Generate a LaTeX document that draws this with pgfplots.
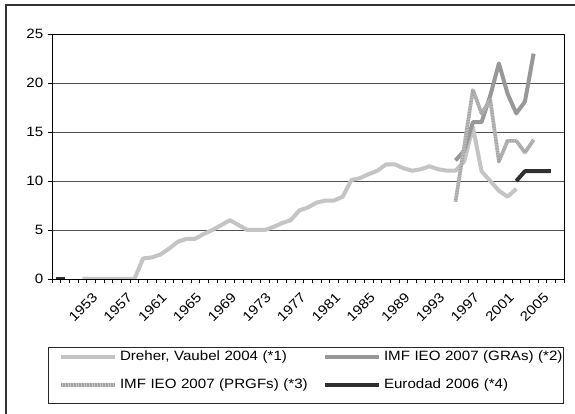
\documentclass[border=0pt]{standalone}
\usepackage{fontspec}
\setmainfont{Liberation Sans}[FakeStretch=1.12]
\usepackage{pgfplots}
\pgfplotsset{compat=1.18}
\definecolor{cDreher}{HTML}{C4C4C4}
\definecolor{cGRA}{HTML}{989898}
\definecolor{cPRGFa}{HTML}{C6C6C6}
\definecolor{cPRGFb}{HTML}{A2A2A2}
\definecolor{cEuro}{HTML}{303030}
\definecolor{cGrid}{HTML}{505050}
\begin{document}
\fontsize{13.5pt}{16pt}\selectfont
\begin{tikzpicture}[x=1pt,y=1pt]
\useasboundingbox (0,0) rectangle (575,414);
\draw[line width=1.3pt, color=black!80] (6,0) -- (6,409) -- (575,409);
\begin{axis}[
  at={(52pt,135pt)}, anchor=south west,
  width=512pt, height=245pt, scale only axis,
  xmin=1949.5, xmax=2008.5, ymin=0, ymax=25,
  ytick={0,5,...,25},
  ymajorgrids, grid style={color=cGrid, line width=0.7pt},
  xtick={1949.5,1950.5,...,2008.5}, xticklabels={},
  extra x ticks={1953,1957,1961,1965,1969,1973,1977,1981,1985,1989,1993,1997,2001,2005},
  extra x tick labels={1953,1957,1961,1965,1969,1973,1977,1981,1985,1989,1993,1997,2001,2005},
  extra x tick style={major tick length=0pt, grid=none,
     xticklabel style={rotate=45, anchor=east, inner sep=1pt, yshift=-20.5pt, xshift=-1.5pt}},
  tick align=outside, tick pos=left, major tick length=4.5pt,
  axis line style={black, line width=0.8pt},
  tick style={black, line width=0.6pt},
  /pgf/number format/assume math mode=true,
  yticklabel style={inner sep=4pt},
  line join=round,
  legend columns=2,
  legend cell align=left,
  legend image code/.code={\draw[#1] (0pt,0pt) -- (54pt,0pt);},
  legend style={draw=none, fill=none,
     at={(axis description cs:0.01367,-0.2837)}, anchor=north west,
     inner sep=0pt, outer sep=0pt, row sep=11pt,
     nodes={inner xsep=3pt, inner ysep=2pt, text height=10pt, text depth=3pt, text width=188pt, align=left},
     /tikz/every even column/.append style={column sep=12pt}},
]
\addplot[color=cDreher, line width=4pt] coordinates {
(1953,0)(1954,0)(1955,0)(1956,0)(1957,0)(1958,0)(1959,0)(1960,2.1)(1961,2.2)(1962,2.5)
(1963,3.1)(1964,3.8)(1965,4.1)(1966,4.1)(1967,4.6)(1968,5.0)(1969,5.5)(1970,6.0)(1971,5.5)(1972,5.0)
(1973,5.0)(1974,5.0)(1975,5.3)(1976,5.7)(1977,6.0)(1978,7.0)(1979,7.3)(1980,7.8)(1981,8.0)(1982,8.0)
(1983,8.4)(1984,10.1)(1985,10.3)(1986,10.7)(1987,11.05)(1988,11.7)(1989,11.7)(1990,11.3)(1991,11.05)(1992,11.2)
(1993,11.5)(1994,11.2)(1995,11.05)(1996,11.05)(1997,12.0)(1998,15.5)(1999,11.0)(2000,10.0)(2001,9.0)(2002,8.4)
(2003,9.2)};
\addlegendentry{Dreher, Vaubel 2004 (*1)}
\addplot[color=cGRA, line width=4pt] coordinates {
(1996,12.1)(1997,13.1)(1998,16.0)(1999,16.0)(2000,18.7)(2001,22.0)(2002,18.9)(2003,16.9)(2004,18.1)(2005,23.0)};
\addlegendentry{IMF IEO 2007 (GRAs) (*2)}
\addplot[color=cPRGFa, line width=3.6pt, postaction={draw, color=cPRGFb, line width=3.6pt, dash pattern=on 0.8pt off 0.8pt}] coordinates {
(1996,7.9)(1997,13.5)(1998,19.3)(1999,16.9)(2000,18.3)(2001,12.0)(2002,14.1)(2003,14.1)(2004,12.9)(2005,14.2)};
\addlegendentry{IMF IEO 2007 (PRGFs) (*3)}
\addplot[color=cEuro, line width=4pt] coordinates {
(2003,10.0)(2004,11.0)(2005,11.0)(2006,11.0)(2007,11.0)};
\addlegendentry{Eurodad 2006 (*4)}
\addplot[color=cEuro, line width=4pt, forget plot] coordinates {(1950,0)(1951,0)};
\end{axis}
\draw[line width=0.8pt, color=black!85] (48,11) rectangle (563,67);
\end{tikzpicture}
\end{document}
